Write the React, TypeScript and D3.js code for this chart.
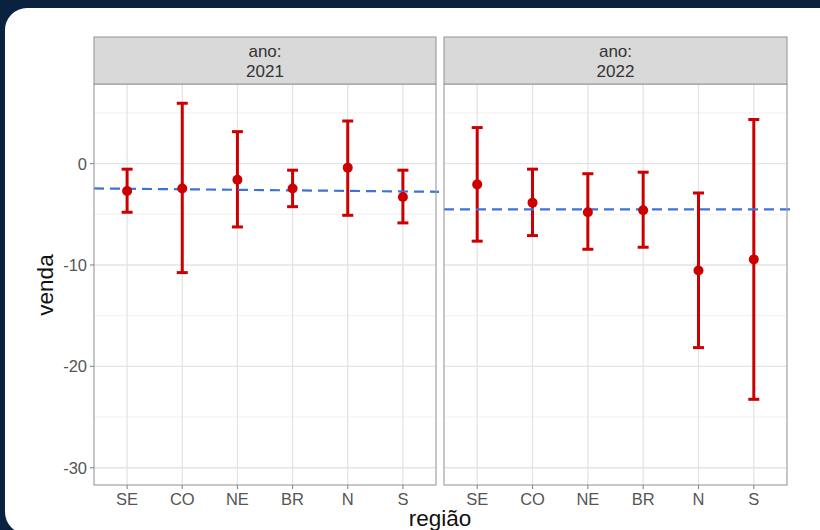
import { useEffect, useRef } from 'react'
import * as d3 from 'd3'

const regioes = ['SE', 'CO', 'NE', 'BR', 'N', 'S']
const anos = ['2021', '2022']

// média e intervalo por ano, na ordem de regioes
const media2021 = [-2.7, -2.45, -1.6, -2.45, -0.4, -3.3]
const sup2021 = [-0.55, 5.95, 3.15, -0.65, 4.2, -0.65]
const inf2021 = [-4.8, -10.75, -6.25, -4.25, -5.1, -5.85]

const media2022 = [-2.05, -3.85, -4.8, -4.6, -10.55, -9.45]
const sup2022 = [3.55, -0.55, -1.0, -0.85, -2.9, 4.35]
const inf2022 = [-7.65, -7.1, -8.45, -8.25, -18.15, -23.25]

// linha tracejada (valor no início e no fim do painel)
const linha2021 = [-2.45, -2.78]
const linha2022 = [-4.52, -4.52]

const yTicks = [0, -10, -20, -30]
const yMinor = [5, -5, -15, -25]

export default function App(): JSX.Element {
  const ref = useRef<HTMLDivElement>(null)

  useEffect(() => {
    const container = ref.current
    if (!container) return
    const width = 820, height = 530

    const svg = d3.create('svg')
      .attr('width', width)
      .attr('height', height)
      .attr('viewBox', [0, 0, width, height])
      .style('display', 'block')
      .style('font-family', '"Liberation Sans", Arial, sans-serif')

    svg.append('rect').attr('width', width).attr('height', height).attr('fill', '#0b2140')
    svg.append('rect').attr('x', 5).attr('y', 8).attr('width', 840).attr('height', 526)
      .attr('rx', 22).attr('fill', '#ffffff')

    const top = 84, bottom = 485
    const stripTop = 37
    const panels = [
      { ano: anos[0], x0: 94, x1: 436, media: media2021, sup: sup2021, inf: inf2021, linha: linha2021 },
      { ano: anos[1], x0: 444, x1: 787, media: media2022, sup: sup2022, inf: inf2022, linha: linha2022 },
    ]

    const y = d3.scaleLinear().domain([-31.7, 7.85]).range([bottom, top])

    panels.forEach((p, pi) => {
      const x = d3.scalePoint<string>().domain(regioes).range([p.x0, p.x1]).padding(0.6)
      const g = svg.append('g')

      // grade
      yMinor.forEach(v => {
        g.append('line').attr('x1', p.x0).attr('x2', p.x1).attr('y1', y(v)).attr('y2', y(v))
          .attr('stroke', '#eeeeee').attr('stroke-width', 0.9)
      })
      yTicks.forEach(v => {
        g.append('line').attr('x1', p.x0).attr('x2', p.x1).attr('y1', y(v)).attr('y2', y(v))
          .attr('stroke', '#e4e4e4').attr('stroke-width', 1.3)
      })
      regioes.forEach(r => {
        g.append('line').attr('x1', x(r)!).attr('x2', x(r)!).attr('y1', top).attr('y2', bottom)
          .attr('stroke', '#e4e4e4').attr('stroke-width', 1.3)
      })

      // barras de erro
      const cap = 5.5
      regioes.forEach((r, i) => {
        const cx = x(r)!
        g.append('line').attr('x1', cx).attr('x2', cx).attr('y1', y(p.sup[i])).attr('y2', y(p.inf[i]))
          .attr('stroke', '#cc0000').attr('stroke-width', 3)
        ;[p.sup[i], p.inf[i]].forEach(v => {
          g.append('line').attr('x1', cx - cap).attr('x2', cx + cap).attr('y1', y(v)).attr('y2', y(v))
            .attr('stroke', '#cc0000').attr('stroke-width', 3)
        })
      })

      // linha tracejada
      g.append('line')
        .attr('x1', p.x0).attr('x2', p.x1 + 3)
        .attr('y1', y(p.linha[0])).attr('y2', y(p.linha[1]))
        .attr('stroke', '#3b73d6').attr('stroke-width', 2.2).attr('stroke-dasharray', '10,6')

      regioes.forEach((r, i) => {
        g.append('circle').attr('cx', x(r)!).attr('cy', y(p.media[i])).attr('r', 5)
          .attr('fill', '#cc0000')
      })

      // borda do painel
      g.append('rect').attr('x', p.x0).attr('y', top).attr('width', p.x1 - p.x0).attr('height', bottom - top)
        .attr('fill', 'none').attr('stroke', '#9a9a9a').attr('stroke-width', 1.1)

      // faixa
      g.append('rect').attr('x', p.x0).attr('y', stripTop).attr('width', p.x1 - p.x0).attr('height', top - stripTop)
        .attr('fill', '#d9d9d9').attr('stroke', '#9a9a9a').attr('stroke-width', 1.1)
      const cxm = (p.x0 + p.x1) / 2
      g.append('text').attr('x', cxm).attr('y', 56.5).attr('text-anchor', 'middle')
        .attr('font-size', 17).attr('fill', '#333').text('ano:')
      g.append('text').attr('x', cxm).attr('y', 77.3).attr('text-anchor', 'middle')
        .attr('font-size', 17).attr('fill', '#333').text(p.ano)

      // eixo x
      regioes.forEach(r => {
        g.append('line').attr('x1', x(r)!).attr('x2', x(r)!).attr('y1', bottom).attr('y2', bottom + 4)
          .attr('stroke', '#888').attr('stroke-width', 1.1)
        g.append('text').attr('x', x(r)!).attr('y', 504.5).attr('text-anchor', 'middle')
          .attr('font-size', 16.5).attr('fill', '#555').text(r)
      })

      // eixo y só no primeiro painel
      if (pi === 0) {
        yTicks.forEach(v => {
          g.append('line').attr('x1', p.x0 - 4).attr('x2', p.x0).attr('y1', y(v)).attr('y2', y(v))
            .attr('stroke', '#888').attr('stroke-width', 1.1)
          g.append('text').attr('x', p.x0 - 7).attr('y', y(v)).attr('dy', '0.36em')
            .attr('text-anchor', 'end').attr('font-size', 16.5).attr('fill', '#555').text(v)
        })
      }
    })

    svg.append('text').attr('transform', 'translate(53,285) rotate(-90)')
      .attr('text-anchor', 'middle').attr('font-size', 22.5).attr('fill', '#111').text('venda')
    svg.append('text').attr('x', 440).attr('y', 526)
      .attr('text-anchor', 'middle').attr('font-size', 22.5).attr('fill', '#111').text('região')

    container.innerHTML = ''
    const node = svg.node()
    if (node) container.append(node)
  }, [])

  return <div ref={ref} style={{ position: 'absolute', left: 0, top: 0, width: 820, height: 530, overflow: 'hidden' }} />
}
